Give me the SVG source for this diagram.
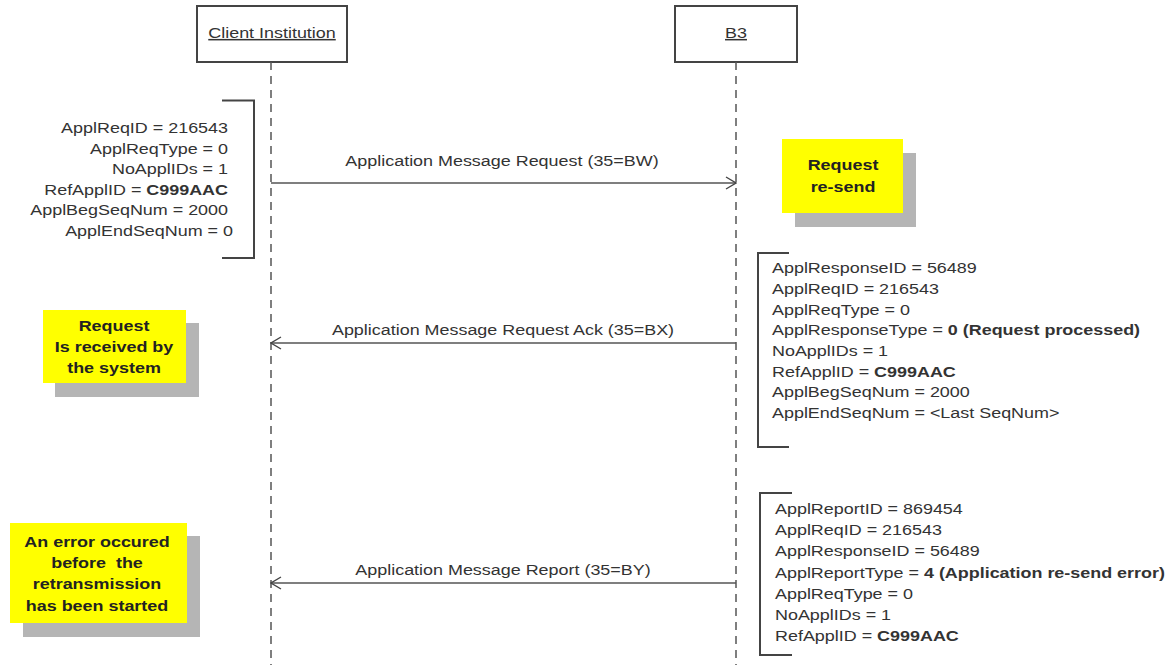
<svg xmlns="http://www.w3.org/2000/svg" width="1173" height="665" viewBox="0 0 1173 665">
<defs>
<style>
text{font-family:"Liberation Sans",Arial,sans-serif;font-size:15.2px;fill:#333}
.b{font-weight:bold}
.note{font-weight:bold;fill:#222;text-anchor:middle}
.box{fill:#fff;stroke:#444;stroke-width:2}
.life{stroke:#555;stroke-width:1.5;stroke-dasharray:8 6;fill:none}
.msg{stroke:#555;stroke-width:1.6;fill:none}
.br{stroke:#444;stroke-width:2;fill:none}
.yl{fill:#ffff00}
.sh{fill:#b5b5b5}
</style>
<marker id="open" viewBox="0 0 12 14" refX="11" refY="7" markerWidth="12" markerHeight="14" markerUnits="userSpaceOnUse" orient="auto">
<path d="M1,1 L11,7 L1,13" fill="none" stroke="#444" stroke-width="1.4"/>
</marker>
</defs>
<rect width="1173" height="665" fill="#fff"/>

<g id="client">
<rect class="box" x="197" y="6" width="150" height="56"/>
<text transform="matrix(1.18 0 0 1 272 38)" text-anchor="middle" text-decoration="underline">Client Institution</text>
<line class="life" x1="271" y1="62" x2="271" y2="665"/>
</g>

<g id="b3">
<rect class="box" x="675" y="6" width="122" height="56"/>
<text transform="matrix(1.18 0 0 1 736 38)" text-anchor="middle" text-decoration="underline">B3</text>
<line class="life" x1="736" y1="62" x2="736" y2="665"/>
</g>

<g id="connectors">
<line class="msg" x1="271" y1="183" x2="736" y2="183" marker-end="url(#open)"/>
<text transform="matrix(1.18 0 0 1 502 166)" text-anchor="middle">Application Message Request (35=BW)</text>
<line class="msg" x1="736" y1="343" x2="271" y2="343" marker-end="url(#open)"/>
<text transform="matrix(1.18 0 0 1 503 335)" text-anchor="middle">Application Message Request Ack (35=BX)</text>
<line class="msg" x1="736" y1="583" x2="271" y2="583" marker-end="url(#open)"/>
<text transform="matrix(1.18 0 0 1 503 575)" text-anchor="middle">Application Message Report (35=BY)</text>
</g>

<g id="request-fields">
<path class="br" d="M222,100.5 H254 V258 H222"/>
<text transform="matrix(1.18 0 0 1 233 133)" text-anchor="end">
<tspan x="0" y="0">ApplReqID = 216543</tspan>
<tspan x="0" y="20.6">ApplReqType = 0</tspan>
<tspan x="0" y="41.2">NoApplIDs = 1</tspan>
<tspan x="0" y="61.8">RefApplID = <tspan class="b">C999AAC</tspan></tspan>
<tspan x="0" y="82.4">ApplBegSeqNum = 2000</tspan>
<tspan x="0" y="103">ApplEndSeqNum = 0</tspan>
</text>
</g>

<g id="note-resend">
<rect class="sh" x="795" y="153" width="121" height="74"/>
<rect class="yl" x="782" y="139" width="121" height="74"/>
<text class="note" transform="matrix(1.18 0 0 1 843 170)"><tspan x="0" y="0">Request</tspan><tspan x="0" y="22">re-send</tspan></text>
</g>

<g id="ack-fields">
<path class="br" d="M789,253 H758 V447 H789"/>
<text transform="matrix(1.18 0 0 1 772 273.3)">
<tspan x="0" y="0">ApplResponseID = 56489</tspan>
<tspan x="0" y="20.7">ApplReqID = 216543</tspan>
<tspan x="0" y="41.4">ApplReqType = 0</tspan>
<tspan x="0" y="62.1">ApplResponseType = <tspan class="b">0 (Request processed)</tspan></tspan>
<tspan x="0" y="82.8">NoApplIDs = 1</tspan>
<tspan x="0" y="103.5">RefApplID = <tspan class="b">C999AAC</tspan></tspan>
<tspan x="0" y="124.2">ApplBegSeqNum = 2000</tspan>
<tspan x="0" y="144.9">ApplEndSeqNum = &lt;Last SeqNum&gt;</tspan>
</text>
</g>

<g id="note-received">
<rect class="sh" x="55" y="323" width="144" height="74"/>
<rect class="yl" x="43" y="310" width="143" height="73"/>
<text class="note" transform="matrix(1.18 0 0 1 114 331)"><tspan x="0" y="0">Request</tspan><tspan x="0" y="21">Is received by</tspan><tspan x="0" y="42">the system</tspan></text>
</g>

<g id="report-fields">
<path class="br" d="M792,493 H760 V655 H792"/>
<text transform="matrix(1.18 0 0 1 775 514.3)">
<tspan x="0" y="0">ApplReportID = 869454</tspan>
<tspan x="0" y="21.1">ApplReqID = 216543</tspan>
<tspan x="0" y="42.2">ApplResponseID = 56489</tspan>
<tspan x="0" y="63.3">ApplReportType = <tspan class="b">4 (Application re-send error)</tspan></tspan>
<tspan x="0" y="84.4">ApplReqType = 0</tspan>
<tspan x="0" y="105.5">NoApplIDs = 1</tspan>
<tspan x="0" y="126.6">RefApplID = <tspan class="b">C999AAC</tspan></tspan>
</text>
</g>

<g id="note-error">
<rect class="sh" x="23" y="536" width="177" height="101"/>
<rect class="yl" x="10" y="523" width="177" height="100"/>
<text class="note" xml:space="preserve" transform="matrix(1.18 0 0 1 97 547)"><tspan x="0" y="0">An error occured</tspan><tspan x="0" y="21">before  the</tspan><tspan x="0" y="42">retransmission</tspan><tspan x="0" y="64">has been started</tspan></text>
</g>
</svg>
